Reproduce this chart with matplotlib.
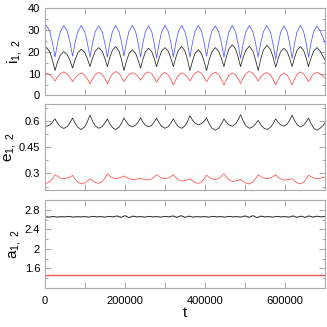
import numpy as np
import matplotlib
matplotlib.use('Agg')
import matplotlib.pyplot as plt
from matplotlib.ticker import MultipleLocator, FixedLocator, FormatStrFormatter

plt.rcParams['font.family'] = ['Liberation Sans', 'DejaVu Sans']
plt.rcParams['mathtext.fontset'] = 'custom'
plt.rcParams['mathtext.rm'] = 'Liberation Sans'
plt.rcParams['mathtext.it'] = 'Liberation Sans'
plt.rcParams['mathtext.default'] = 'regular'

# times where the inclinations dip (and eccentricities peak)
cusp_t = [25000, 69000, 112500, 156000, 197500, 239000, 279000, 321000,
          362500, 404000, 447500, 489000, 533000, 577000, 618000, 659000]
# sample positions inside each arch (fraction of the gap between dips)
arch_frac = [0, 0.05, 0.15, 0.3, 0.5, 0.7, 0.85, 0.95]
start_t = [0, 3750, 12250, 18625, 22875]
end_t = [659000, 661125, 665375, 671750, 680250, 688750, 695125, 700000]

# inclination, outer body (blue)
i_blue = [31.4, 32, 29.2, 24.1, 19.8,
          17.5, 19.8, 24.1, 29.2, 32, 29.3, 24.4, 20.2,
          18, 20.2, 24.4, 29.3, 32, 29.2, 24.1, 19.8,
          17.5, 19.8, 24.1, 29.2, 31.8, 29.2, 24.1, 19.8,
          17.5, 19.8, 24.1, 29.2, 32, 29.3, 24.4, 20.2,
          18, 20.2, 24.4, 29.3, 32, 29.2, 24.1, 19.8,
          17.5, 19.8, 24.1, 29.2, 31.8, 29.1, 23.8, 19.3,
          17, 19.3, 23.8, 29.1, 32, 29.2, 24.1, 19.8,
          17.5, 19.8, 24.1, 29.2, 32, 29.2, 24.1, 19.8,
          17.5, 19.8, 24.1, 29.2, 32, 29.3, 24.4, 20.2,
          18, 20.2, 24.4, 29.3, 31.8, 29.2, 24.1, 19.8,
          17.5, 19.8, 24.1, 29.2, 32, 29.1, 23.8, 19.3,
          17, 19.3, 23.8, 29.1, 32, 29.2, 24.1, 19.8,
          17.5, 19.8, 24.1, 29.2, 32, 29.0, 23.5, 18.9,
          16.5, 18.9, 23.5, 29.0, 31.8, 29.1, 23.8, 19.3,
          17, 19.3, 23.8, 29.1, 32, 29.2, 24.1, 19.8,
          17.5, 19.8, 24.1, 29.2, 31.8, 29.2, 26.5, 24.0]

# inclination, body 1 (black)
i_1 = [21.5, 21.9, 19.9, 16.2, 13.0,
       11.4, 12.8, 15.4, 18.4, 20.1, 18.6, 16.0, 13.7,
       12.5, 13.9, 16.4, 19.5, 21.2, 19.7, 16.8, 14.4,
       13.2, 14.6, 17.1, 20.2, 21.9, 20.2, 17.1, 14.6,
       13.2, 14.6, 17.4, 20.6, 22.4, 20.3, 16.4, 13.1,
       11.4, 12.9, 15.7, 19.1, 20.9, 19.3, 16.3, 13.8,
       12.5, 13.9, 16.6, 19.9, 21.6, 20.0, 17.0, 14.5,
       13.2, 14.6, 17.1, 20.2, 21.9, 20.2, 17.1, 14.6,
       13.2, 14.6, 17.4, 20.6, 22.4, 20.3, 16.4, 13.1,
       11.4, 12.9, 15.7, 19.1, 20.9, 19.1, 15.7, 12.9,
       11.4, 13.0, 16.2, 19.9, 21.9, 20.2, 17.1, 14.6,
       13.2, 14.8, 17.7, 21.3, 23.2, 21.3, 17.7, 14.8,
       13.2, 14.7, 17.4, 20.7, 22.5, 20.4, 16.4, 13.1,
       11.4, 13.2, 16.7, 20.8, 23.0, 21.1, 17.5, 14.6,
       13.0, 14.3, 16.9, 20.0, 21.6, 20.0, 17.0, 14.5,
       13.2, 14.6, 17.4, 20.6, 22.4, 20.6, 17.4, 14.6,
       13.2, 14.6, 17.1, 20.2, 21.9, 20.2, 18.0, 16.3]

# inclination, body 2 (red)
i_2 = [10.1, 10.2, 9.5, 8.2, 7.2,
       6.6, 7.3, 8.5, 10.0, 10.8, 9.9, 8.3, 7.0,
       6.3, 6.9, 8.1, 9.5, 10.3, 9.3, 7.6, 6.1,
       5.3, 6.1, 7.7, 9.6, 10.6, 9.6, 7.7, 6.1,
       5.3, 6.2, 7.9, 9.9, 11.0, 10.1, 8.4, 7.0,
       6.3, 6.9, 8.2, 9.6, 10.4, 9.8, 8.5, 7.5,
       7.0, 7.6, 8.7, 10.1, 10.8, 9.9, 8.2, 6.7,
       6.0, 6.7, 8.0, 9.6, 10.5, 9.4, 7.4, 5.7,
       4.8, 5.7, 7.3, 9.2, 10.3, 9.6, 8.3, 7.2,
       6.6, 7.3, 8.6, 10.2, 11.0, 10.1, 8.4, 7.0,
       6.3, 7.0, 8.3, 9.8, 10.6, 9.5, 7.4, 5.7,
       4.8, 5.7, 7.3, 9.2, 10.3, 9.4, 7.7, 6.2,
       5.5, 6.4, 8.0, 10.0, 11.0, 10.2, 8.6, 7.3,
       6.6, 7.2, 8.4, 9.8, 10.5, 9.4, 7.4, 5.7,
       4.8, 5.7, 7.3, 9.2, 10.3, 9.2, 7.3, 5.7,
       4.8, 5.7, 7.5, 9.7, 10.8, 9.9, 8.3, 7.0,
       6.3, 7.0, 8.3, 9.8, 10.6, 9.8, 8.8, 8.0]

# eccentricities
e_1 = [.574, .572, .580, .595, .607,
       .614, .605, .589, .570, .559, .570, .592, .610,
       .619, .609, .589, .566, .553, .569, .598, .623,
       .636, .624, .601, .575, .560, .570, .589, .606,
       .614, .604, .586, .565, .553, .566, .589, .609,
       .619, .611, .596, .578, .568, .578, .596, .612,
       .620, .612, .596, .578, .568, .578, .596, .611,
       .619, .610, .592, .571, .560, .570, .589, .606,
       .614, .606, .589, .570, .560, .574, .599, .621,
       .632, .624, .608, .590, .580, .587, .601, .613,
       .619, .608, .587, .562, .549, .561, .584, .604,
       .614, .607, .595, .580, .572, .585, .608, .628,
       .638, .626, .603, .575, .560, .569, .585, .599,
       .606, .598, .582, .563, .553, .565, .586, .604,
       .614, .607, .595, .580, .572, .584, .607, .626,
       .636, .625, .605, .581, .568, .578, .596, .611,
       .619, .608, .587, .562, .549, .562, .575, .591]

e_2 = [.245, .243, .253, .270, .285,
       .293, .289, .283, .274, .270, .274, .280, .286,
       .289, .281, .267, .249, .240, .246, .256, .265,
       .270, .266, .258, .248, .243, .253, .272, .289,
       .297, .293, .285, .275, .270, .273, .279, .284,
       .286, .283, .276, .269, .265, .266, .269, .271,
       .272, .271, .268, .265, .263, .269, .279, .288,
       .293, .289, .283, .274, .270, .274, .283, .289,
       .293, .287, .277, .264, .257, .259, .264, .268,
       .270, .266, .258, .248, .243, .252, .269, .283,
       .290, .286, .279, .270, .265, .271, .284, .294,
       .299, .292, .279, .263, .254, .256, .261, .264,
       .266, .262, .254, .245, .240, .250, .269, .285,
       .293, .289, .283, .274, .270, .274, .283, .289,
       .293, .288, .279, .268, .262, .264, .266, .269,
       .270, .265, .256, .246, .240, .250, .267, .282,
       .290, .287, .281, .274, .270, .273, .277, .280]

# semi-major axes (sampled every 10000)
a_1 = [2.66, 2.65, 2.665, 2.65, 2.66, 2.655, 2.665, 2.65, 2.66, 2.655,
       2.66, 2.65, 2.665, 2.655, 2.66, 2.65, 2.665, 2.655, 2.675, 2.645,
       2.68, 2.64, 2.67, 2.655, 2.66, 2.65, 2.665, 2.655, 2.66, 2.65,
       2.665, 2.655, 2.675, 2.645, 2.68, 2.645, 2.67, 2.65, 2.66, 2.655,
       2.66, 2.65, 2.665, 2.655, 2.66, 2.65, 2.665, 2.655, 2.66, 2.65,
       2.675, 2.645, 2.68, 2.64, 2.67, 2.655, 2.66, 2.65, 2.665, 2.655,
       2.66, 2.65, 2.675, 2.645, 2.67, 2.645, 2.675, 2.65, 2.67, 2.655,
       2.665]
a_2 = [1.46, 1.46]
a_2_t = [0, 700000]

blue = '#5555ff'
black = '#222222'
red = '#ff4d4d'


def time_grid():
    t = list(start_t)
    for k in range(len(cusp_t) - 1):
        d = cusp_t[k + 1] - cusp_t[k]
        t += [cusp_t[k] + f * d for f in arch_frac]
    t += end_t
    return np.array(t)


def style(ax, ylim, major, minor, show_x=False):
    ax.set_xlim(0, 700000)
    ax.set_ylim(*ylim)
    ax.xaxis.set_major_locator(MultipleLocator(200000))
    ax.xaxis.set_minor_locator(MultipleLocator(100000))
    ax.yaxis.set_major_locator(FixedLocator(major))
    ax.yaxis.set_minor_locator(MultipleLocator(minor))
    ax.yaxis.set_major_formatter(FormatStrFormatter('%g'))
    ax.tick_params(which='both', direction='in', top=True, right=True,
                   color='#999999', width=0.6, labelsize=8)
    ax.tick_params(axis='y', which='major', length=4, pad=3.5)
    ax.tick_params(axis='y', which='minor', length=2.5)
    ax.tick_params(axis='x', which='both', length=4, pad=6)
    if not show_x:
        ax.tick_params(axis='x', labelbottom=False)
    for s in ax.spines.values():
        s.set_color('#aaaaaa')
        s.set_linewidth(0.8)


t = time_grid()
t_a = np.linspace(0, 700000, len(a_1))

fig = plt.figure(figsize=(3.27, 3.27), dpi=100)
ax1 = fig.add_axes([0.1376, 0.708, 0.856, 0.2675])
ax2 = fig.add_axes([0.1376, 0.419, 0.856, 0.263])
ax3 = fig.add_axes([0.1376, 0.1193, 0.856, 0.269])

ax1.plot(t, i_blue, color=blue, lw=0.55)
ax1.plot(t, i_1, color=black, lw=0.55)
ax1.plot(t, i_2, color=red, lw=0.55)
style(ax1, (0, 40), [0, 10, 20, 30, 40], 5)
ax1.set_ylabel('i$_{1,\\ 2}$', fontsize=11)
ax1.yaxis.set_label_coords(-0.075, 0.5)

ax2.plot(t, e_1, color=black, lw=0.55)
ax2.plot(t, e_2, color=red, lw=0.55)
style(ax2, (0.205, 0.70), [0.3, 0.45, 0.6], 0.075)
ax2.set_ylabel('e$_{1,\\ 2}$', fontsize=11)
ax2.yaxis.set_label_coords(-0.095, 0.5)

ax3.plot(t_a, a_1, color=black, lw=0.7)
ax3.plot(a_2_t, a_2, color='#ff5555', lw=1.0)
style(ax3, (1.2, 3.0), [1.6, 2.0, 2.4, 2.8], 0.2, show_x=True)
ax3.set_ylabel('a$_{1,\\ 2}$', fontsize=11)
ax3.yaxis.set_label_coords(-0.08, 0.5)
ax3.set_xlabel('t', fontsize=11, labelpad=0)

fig.savefig('out.png', dpi=100)
